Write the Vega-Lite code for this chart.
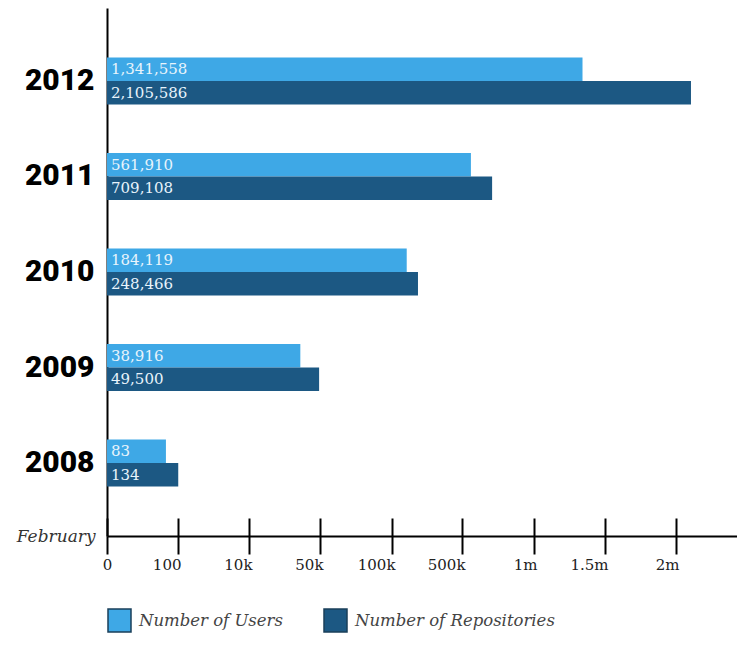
{
  "$schema": "https://vega.github.io/schema/vega-lite/v6.json",
  "autosize": "none",
  "padding": {"left": 107, "top": 8, "right": 0, "bottom": 112},
  "width": 630,
  "height": 528,
  "background": "white",
  "config": {"view": {"stroke": null}},
  "data": {
    "values": [
      {"year": "2012", "series": "Number of Users", "value": 1341558},
      {"year": "2012", "series": "Number of Repositories", "value": 2105586},
      {"year": "2011", "series": "Number of Users", "value": 561910},
      {"year": "2011", "series": "Number of Repositories", "value": 709108},
      {"year": "2010", "series": "Number of Users", "value": 184119},
      {"year": "2010", "series": "Number of Repositories", "value": 248466},
      {"year": "2009", "series": "Number of Users", "value": 38916},
      {"year": "2009", "series": "Number of Repositories", "value": 49500},
      {"year": "2008", "series": "Number of Users", "value": 83},
      {"year": "2008", "series": "Number of Repositories", "value": 134}
    ]
  },
  "encoding": {
    "y": {
      "field": "year", "type": "nominal", "sort": "descending",
      "scale": {"paddingInner": 0.508, "paddingOuter": 0.518},
      "axis": {
        "title": null, "ticks": false, "labelPadding": 13,
        "labelFont": "Roboto", "labelFontWeight": 900, "labelFontSize": 30,
        "labelColor": "#000000", "domainColor": "#000000", "domainWidth": 2
      }
    },
    "yOffset": {
      "field": "series", "type": "nominal",
      "sort": ["Number of Users", "Number of Repositories"],
      "scale": {"paddingInner": 0, "paddingOuter": 0}
    }
  },
  "layer": [
    {
      "mark": {"type": "bar"},
      "encoding": {
        "x": {
          "field": "value", "type": "quantitative",
          "scale": {
            "domain": [0, 100, 10000, 50000, 100000, 500000, 1000000, 1500000, 2000000, 2430000],
            "range": [0, 71, 142, 213, 285, 355, 427, 498, 569, 630],
            "nice": false
          },
          "axis": {
            "orient": "bottom",
            "values": [0, 100, 10000, 50000, 100000, 500000, 1000000, 1500000, 2000000],
            "labelExpr": "datum.value >= 1000000 ? (datum.value/1000000) + 'm' : datum.value >= 10000 ? (datum.value/1000) + 'k' : datum.value + ''",
            "grid": false,
            "tickSize": 18, "tickWidth": 2, "tickColor": "#000000",
            "domainColor": "#000000", "domainWidth": 2,
            "labelFont": "DejaVu Serif", "labelFontSize": 15, "labelColor": "#222222",
            "labelPadding": 3, "labelBaseline": "top",
            "labelAlign": {"condition": {"test": "datum.value === 0", "value": "center"}, "value": "right"},
            "labelOffset": {"condition": {"test": "datum.value === 0", "value": 0}, "value": 3},
            "labelFlush": false, "labelOverlap": false,
            "title": "February", "titleX": -12, "titleY": 0,
            "titleAlign": "right", "titleBaseline": "middle", "titleAngle": 0,
            "titleFont": "DejaVu Serif", "titleFontStyle": "italic", "titleFontWeight": "normal",
            "titleFontSize": 17, "titleColor": "#333333"
          }
        },
        "color": {
          "field": "series", "type": "nominal",
          "scale": {
            "domain": ["Number of Users", "Number of Repositories"],
            "range": ["#3ea8e6", "#1c5883"]
          },
          "legend": {
            "orient": "bottom", "direction": "horizontal", "title": null,
            "symbolType": "square", "symbolSize": 529,
            "symbolStrokeColor": "#1a3f5a", "symbolStrokeWidth": 1.5, "symbolOpacity": 1,
            "labelFont": "DejaVu Serif", "labelFontStyle": "italic", "labelFontSize": 16.5,
            "labelColor": "#444444", "labelOffset": 7, "columnPadding": 38,
            "offset": 36, "labelLimit": 400
          }
        }
      }
    },
    {
      "mark": {"type": "text", "align": "left", "baseline": "middle", "dx": 4, "font": "DejaVu Serif", "fontSize": 15, "color": "#e8f4fc"},
      "encoding": {
        "x": {
          "datum": 0, "type": "quantitative",
          "axis": {
            "orient": "bottom",
            "values": [0, 100, 10000, 50000, 100000, 500000, 1000000, 1500000, 2000000],
            "labels": false, "domain": false, "grid": false, "title": null,
            "tickSize": -18, "tickWidth": 2, "tickColor": "#000000"
          }
        },
        "text": {"field": "value", "type": "quantitative", "format": ","}
      }
    }
  ],
  "resolve": {"axis": {"x": "independent"}}
}
